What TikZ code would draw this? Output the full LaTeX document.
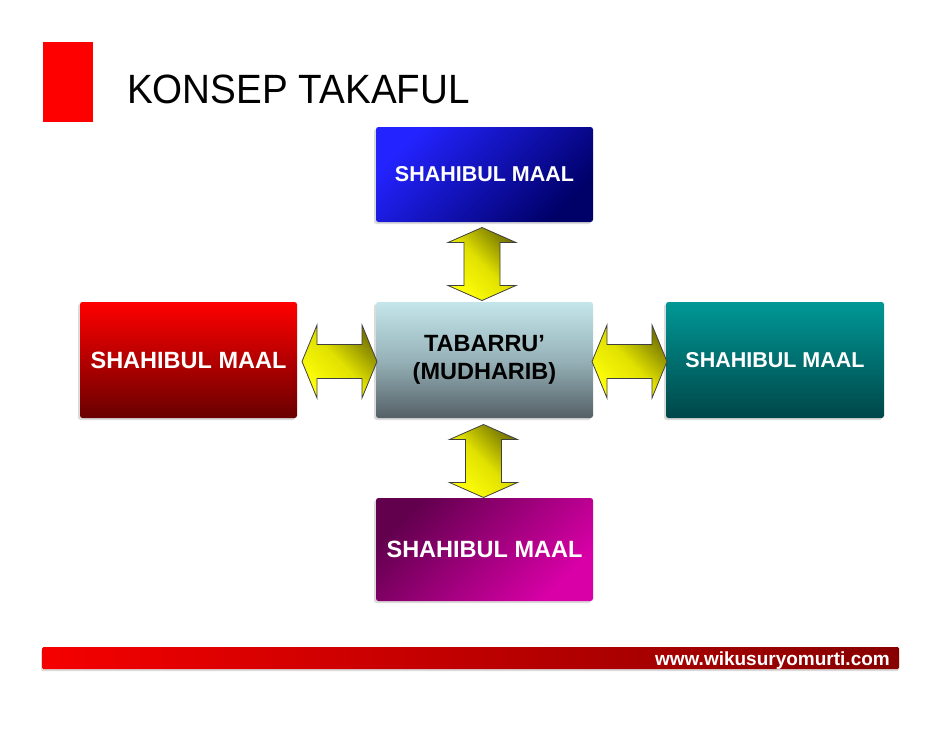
\documentclass[tikz,border=0pt]{standalone}
\usepackage{fontspec}
\setmainfont{Liberation Sans}
\usetikzlibrary{calc}
\definecolor{blueA}{RGB}{35,35,255}
\definecolor{blueB}{RGB}{0,0,105}
\definecolor{redA}{RGB}{255,0,0}
\definecolor{redB}{RGB}{105,0,0}
\definecolor{tealA}{RGB}{0,152,150}
\definecolor{tealB}{RGB}{0,70,72}
\definecolor{ctrA}{RGB}{196,230,234}
\definecolor{ctrM}{RGB}{150,178,184}
\definecolor{ctrB}{RGB}{84,96,102}
\definecolor{magA}{RGB}{98,0,78}
\definecolor{magB}{RGB}{218,0,168}
\definecolor{yelA}{RGB}{120,120,0}
\definecolor{yelM}{RGB}{225,225,0}
\definecolor{yelB}{RGB}{255,255,10}
\definecolor{barA}{RGB}{245,0,0}
\definecolor{barB}{RGB}{135,0,0}
\tikzset{
  box/.style={rectangle, rounded corners=2.5pt, inner sep=0pt, align=center,
    font=\fontsize{21.5}{26}\selectfont\bfseries, text=white},
  bigbox/.style={box, font=\fontsize{23.5}{28}\selectfont\bfseries},
  boxshadow/.style={fill=black!14},
  yarrow/.style={draw=black!75, line width=0.8pt, line join=miter,
    top color=yelA, bottom color=yelB, middle color=yelM, shading angle=-45},
}
\newcommand\HArrowShape{%
  (-37.5,0) -- (-22.5,-36.5) -- (-22.5,-17) -- (22.5,-17) -- (22.5,-36.5) --
  (37.5,0) -- (22.5,36.5) -- (22.5,17) -- (-22.5,17) -- (-22.5,36.5) -- cycle}
\newcommand\VArrowShape{%
  (0,-36.5) -- (34,-21.5) -- (18,-21.5) -- (18,21.5) -- (34,21.5) --
  (0,36.5) -- (-34,21.5) -- (-18,21.5) -- (-18,-21.5) -- (-34,-21.5) -- cycle}
\begin{document}
\begin{tikzpicture}[x=1pt,y=-1pt]
\useasboundingbox (0,0) rectangle (942,728);
\fill[white] (0,0) rectangle (942,728);

% title
\fill[redA] (43,42) rectangle (93,122);
\node[anchor=base west, inner sep=0pt, font=\fontsize{38.6}{44}\selectfont]
  (title) at (127,103) {\scalebox{1}[1.06]{KONSEP TAKAFUL}};

% shadows
\foreach \a/\b/\c/\d in {376/127/593/222, 80/302/297/418, 376/302/593/418,
                         666/302/884/418, 376/498/593/601}
  \fill[boxshadow, rounded corners=2.5pt] (\a-2,\b+2) rectangle (\c-2,\d+2);

% boxes
\node[box, minimum width=217pt, minimum height=95pt,
      top color=blueA, bottom color=blueB, shading angle=45]
  (top) at (484.5,174.5) {\raisebox{-1.5pt}{SHAHIBUL MAAL}};
\node[bigbox, minimum width=217pt, minimum height=116pt,
      top color=redA, bottom color=redB]
  (left) at (188.5,360) {\raisebox{-1pt}{SHAHIBUL MAAL}};
\node[bigbox, minimum width=217pt, minimum height=116pt, text=black,
      top color=ctrA, bottom color=ctrB, middle color=ctrM]
  (ctr) at (484.5,360) {\raisebox{-3pt}{\begin{tabular}{@{}c@{}}TABARRU’\\[-0.5pt](MUDHARIB)\end{tabular}}};
\node[box, minimum width=218pt, minimum height=116pt,
      top color=tealA, bottom color=tealB]
  (right) at (775,360) {\raisebox{-1pt}{SHAHIBUL MAAL}};
\node[bigbox, minimum width=217pt, minimum height=103pt,
      top color=magA, bottom color=magB, shading angle=45]
  (bot) at (484.5,549.5) {\raisebox{-1pt}{SHAHIBUL MAAL}};

% connectors (double arrows)
\coordinate (aT) at ($(top.south)!0.5!(ctr.north)+(-2.5,2)$);
\coordinate (aB) at ($(ctr.south)!0.5!(bot.north)+(-1,3)$);
\coordinate (aL) at ($(left.east)!0.5!(ctr.west)+(3,1.5)$);
\coordinate (aR) at ($(ctr.east)!0.5!(right.west)+(0,1.5)$);
\begin{scope}[shift={(aT)}] \path[yarrow] \VArrowShape; \end{scope}
\begin{scope}[shift={(aB)}] \path[yarrow] \VArrowShape; \end{scope}
\begin{scope}[shift={(aL)}] \path[yarrow] \HArrowShape; \end{scope}
\begin{scope}[shift={(aR)}] \path[yarrow] \HArrowShape; \end{scope}

% footer bar
\fill[black!14, rounded corners=1.5pt] (41,649) rectangle (899,671);
\path[left color=barA, right color=barB, rounded corners=1.5pt]
  (42,647) rectangle (899,669);
\node[anchor=base east, inner sep=0pt, text=white,
      font=\fontsize{19}{22}\selectfont\bfseries]
  (url) at (890,665.5) {www.wikusuryomurti.com};
\end{tikzpicture}
\end{document}
